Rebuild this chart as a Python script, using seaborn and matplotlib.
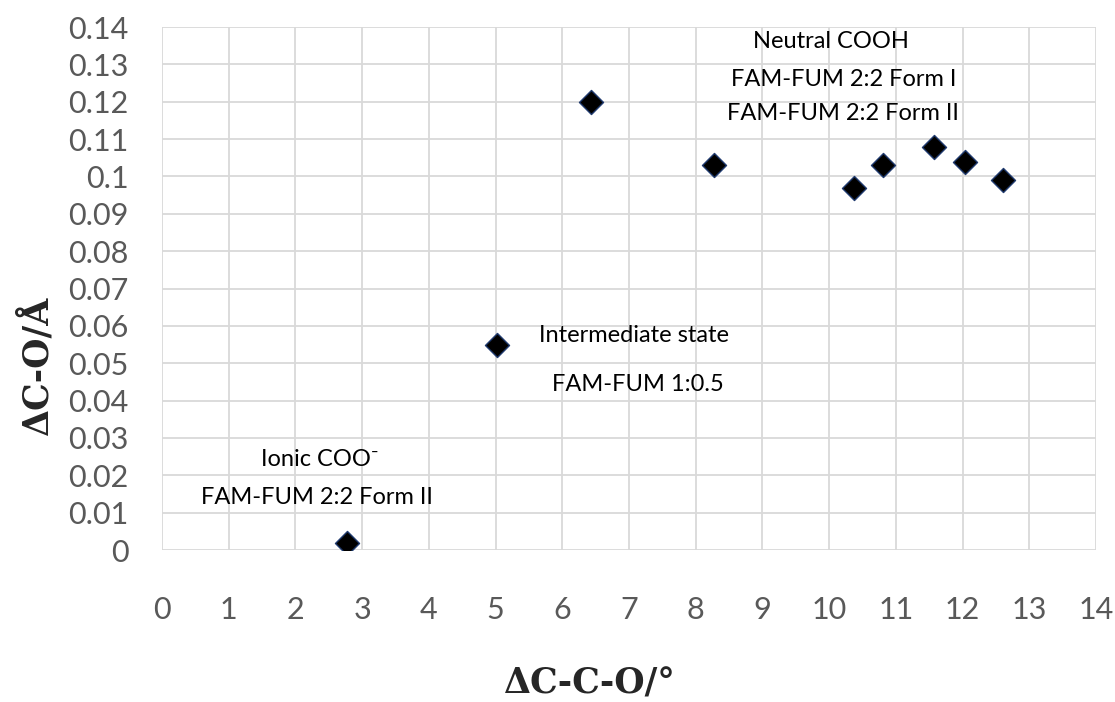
import matplotlib
matplotlib.use("Agg")
import matplotlib.pyplot as plt
import seaborn as sns
import pandas as pd

# Data
delta_cco = [2.78, 5.02, 6.43, 8.27, 10.37, 10.80, 11.57, 12.03, 12.60]
delta_co = [0.002, 0.055, 0.120, 0.103, 0.097, 0.103, 0.108, 0.104, 0.099]
x_ticks = list(range(0, 15))
y_ticks = [i / 100 for i in range(0, 15)]
y_tick_labels = ["0", "0.01", "0.02", "0.03", "0.04", "0.05", "0.06", "0.07",
                 "0.08", "0.09", "0.1", "0.11", "0.12", "0.13", "0.14"]

annotations = [
    ("Neutral COOH", 10.02, 0.1345),
    ("FAM-FUM 2:2 Form I", 10.22, 0.1243),
    ("FAM-FUM 2:2 Form II", 10.21, 0.1150),
    ("Intermediate state", 7.08, 0.0556),
    ("FAM-FUM 1:0.5", 7.14, 0.0425),
    ("Ionic COO\u207b", 2.37, 0.0225),
    ("FAM-FUM 2:2 Form II", 2.32, 0.0123),
]

df = pd.DataFrame({"x": delta_cco, "y": delta_co})

sns.set_theme(style="white")
plt.rcParams["font.family"] = ["Lato", "DejaVu Sans"]

fig = plt.figure(figsize=(11.15, 7.02), dpi=100)
ax = fig.add_axes([0.1453, 0.2165, 0.8377, 0.745])

sns.scatterplot(data=df, x="x", y="y", ax=ax, marker="D", s=150,
                color="black", edgecolor="#1f3a6e", linewidth=1.0, zorder=3)

ax.set_xlim(0, 14)
ax.set_ylim(0, 0.14)
ax.set_xticks(x_ticks)
ax.set_yticks(y_ticks)
ax.set_yticklabels(y_tick_labels)
ax.grid(True, color="#d9d9d9", linewidth=1.3)
for s in ax.spines.values():
    s.set_visible(False)
ax.tick_params(axis="both", length=0, labelsize=22, labelcolor="#595959")
ax.tick_params(axis="x", pad=33)
ax.tick_params(axis="y", pad=24)

ax.set_xlabel("\u0394C-C-O/\u00b0", fontsize=25, fontweight="bold",
              family=["DejaVu Serif"])
ax.set_ylabel("\u0394C-O/\u00c5", fontsize=25, fontweight="bold",
              family=["DejaVu Serif"])
ax.xaxis.set_label_coords(0.458, -0.222)
ax.yaxis.set_label_coords(-0.1146, 0.354)

for txt, x, y in annotations:
    ax.text(x, y, txt, fontsize=17, color="black", ha="center", va="baseline",
            family=["Lato", "DejaVu Sans"])

fig.savefig("out.png", dpi=100)
